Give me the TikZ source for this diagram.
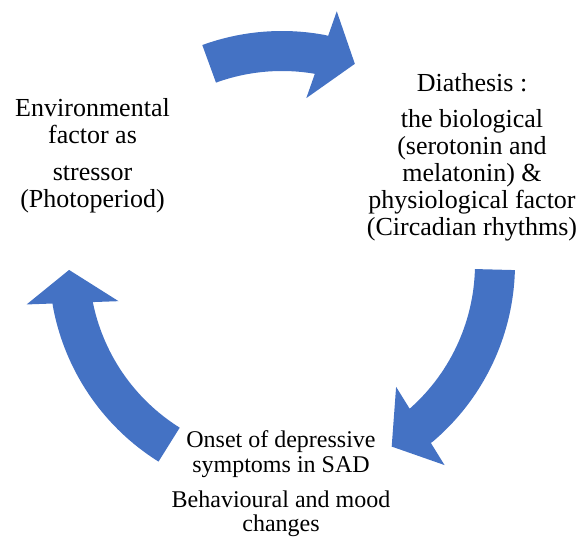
\documentclass[tikz,border=0pt]{standalone}
\usepackage{fontspec}
\setmainfont{Liberation Serif}
\usepackage{tikz}
\usetikzlibrary{calc}
\usetikzlibrary{positioning}
\definecolor{cblue}{rgb}{0.267, 0.447, 0.769}
\tikzset{cyctext/.style = {align=center, anchor=base, inner sep=0pt,
                           font=\fontsize{26}{27}\selectfont}}
\newcommand{\cycarrow}[3]{%
  \fill [cblue] (#1:233pt) arc [start angle=#1, end angle=#2, radius=233pt]
    -- ($(#2:213pt)!20pt!86:(#3:213pt)$) -- ($(#2:213pt)!46pt!86:(#3:213pt)$)
    -- (#3:213pt)
    -- ($(#2:213pt)!46pt!-94:(#3:213pt)$) -- ($(#2:213pt)!20pt!-94:(#3:213pt)$)
    -- (#2:193pt) arc [start angle=#2, end angle=#1, radius=193pt] -- cycle;}

\begin{document}
\begin{tikzpicture}[x=1pt, y=1pt]
    \useasboundingbox (-282, -273) rectangle (297, 264);
    \cycarrow{110}{79.3}{70}
    \cycarrow{-1.5}{-49.5}{-59}
    \cycarrow{238}{190.5}{181.6}

    \node [cyctext] (env) at (-189.5, 56) {Environmental\\factor as\\[10pt]stressor\\(Photoperiod)};
    \node [cyctext] (diath) at (190, 28) {Diathesis :\\[9pt]the biological\\(serotonin and\\melatonin) \&\\physiological factor\\(Circadian rhythms)};
    \node [cyctext, font=\fontsize{24}{24.5}\selectfont] (onset) at (-1, -268) {Onset of depressive\\symptoms in SAD\\[10.5pt]Behavioural and mood\\changes};
  \end{tikzpicture}
\end{document}
